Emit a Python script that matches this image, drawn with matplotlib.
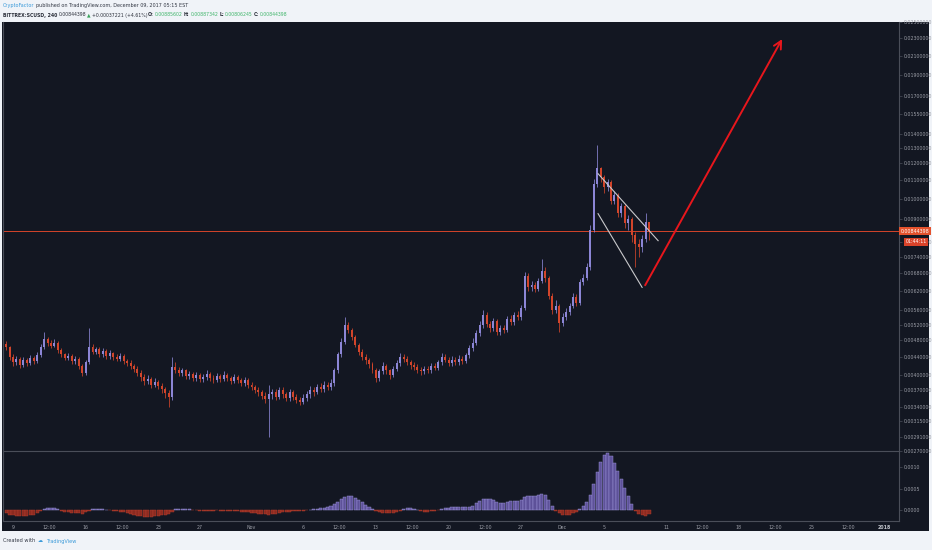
import matplotlib
matplotlib.use('Agg')
import matplotlib.pyplot as plt
import matplotlib.dates as mdates
import matplotlib.transforms as mtransforms
import numpy as np
import pandas as pd

first_open = 0.00470
closes = [
    0.00462, 0.00440, 0.00428, 0.00436, 0.00422, 0.00434, 0.00426, 0.00438, 0.00430, 0.00444,
    0.00462, 0.00482, 0.00472, 0.00466, 0.00474, 0.00456, 0.00446, 0.00438, 0.00442, 0.00430,
    0.00436, 0.00420, 0.00404, 0.00428, 0.00462, 0.00452, 0.00458, 0.00446, 0.00454, 0.00442,
    0.00448, 0.00440, 0.00436, 0.00442, 0.00430, 0.00426, 0.00420, 0.00414, 0.00404, 0.00396,
    0.00388, 0.00392, 0.00380, 0.00386, 0.00378, 0.00372, 0.00364, 0.00358, 0.00418, 0.00412,
    0.00404, 0.00410, 0.00398, 0.00402, 0.00394, 0.00400, 0.00392, 0.00396, 0.00402, 0.00394,
    0.00390, 0.00398, 0.00392, 0.00400, 0.00394, 0.00388, 0.00396, 0.00390, 0.00384, 0.00390,
    0.00380, 0.00376, 0.00370, 0.00366, 0.00360, 0.00354, 0.00362, 0.00366, 0.00358, 0.00370,
    0.00362, 0.00356, 0.00366, 0.00358, 0.00352, 0.00348, 0.00356, 0.00362, 0.00370, 0.00366,
    0.00376, 0.00372, 0.00380, 0.00376, 0.00384, 0.00410, 0.00446, 0.00476, 0.00518, 0.00506,
    0.00488, 0.00468, 0.00452, 0.00440, 0.00432, 0.00424, 0.00412, 0.00394, 0.00408, 0.00420,
    0.00410, 0.00400, 0.00414, 0.00426, 0.00440, 0.00436, 0.00428, 0.00422, 0.00418, 0.00412,
    0.00408, 0.00414, 0.00410, 0.00420, 0.00416, 0.00428, 0.00440, 0.00434, 0.00426, 0.00434,
    0.00428, 0.00436, 0.00430, 0.00444, 0.00460, 0.00474, 0.00498, 0.00520, 0.00548, 0.00522,
    0.00510, 0.00530, 0.00500, 0.00512, 0.00506, 0.00536, 0.00528, 0.00548, 0.00540, 0.00566,
    0.00670, 0.00632, 0.00640, 0.00626, 0.00652, 0.00688, 0.00662, 0.00604, 0.00562, 0.00574,
    0.00524, 0.00540, 0.00556, 0.00572, 0.00600, 0.00582, 0.00650, 0.00662, 0.00700, 0.00850,
    0.01080, 0.01170, 0.01120, 0.01060, 0.01090, 0.00990, 0.01020, 0.00930, 0.00960, 0.00880,
    0.00900, 0.00830, 0.00790, 0.00780, 0.00810, 0.00885602, 0.00844398,
]
highs = [
    0.00478, 0.00466, 0.00446, 0.00442, 0.00440, 0.00440, 0.00438, 0.00444, 0.00442, 0.00452,
    0.00470, 0.00500, 0.00488, 0.00480, 0.00482, 0.00478, 0.00460, 0.00450, 0.00450, 0.00446,
    0.00442, 0.00440, 0.00424, 0.00434, 0.00510, 0.00470, 0.00464, 0.00462, 0.00460, 0.00458,
    0.00456, 0.00452, 0.00446, 0.00448, 0.00446, 0.00436, 0.00432, 0.00424, 0.00420, 0.00410,
    0.00402, 0.00400, 0.00396, 0.00394, 0.00390, 0.00384, 0.00376, 0.00370, 0.00440, 0.00428,
    0.00418, 0.00416, 0.00414, 0.00408, 0.00406, 0.00406, 0.00404, 0.00402, 0.00410, 0.00406,
    0.00400, 0.00404, 0.00402, 0.00408, 0.00404, 0.00398, 0.00402, 0.00400, 0.00394, 0.00396,
    0.00394, 0.00386, 0.00380, 0.00376, 0.00370, 0.00366, 0.00380, 0.00372, 0.00372, 0.00376,
    0.00376, 0.00366, 0.00372, 0.00370, 0.00362, 0.00358, 0.00362, 0.00368, 0.00378, 0.00376,
    0.00382, 0.00384, 0.00388, 0.00386, 0.00392, 0.00416, 0.00452, 0.00484, 0.00542, 0.00526,
    0.00512, 0.00494, 0.00472, 0.00458, 0.00446, 0.00438, 0.00428, 0.00416, 0.00414, 0.00428,
    0.00424, 0.00414, 0.00420, 0.00432, 0.00448, 0.00446, 0.00442, 0.00434, 0.00428, 0.00424,
    0.00418, 0.00420, 0.00420, 0.00426, 0.00426, 0.00434, 0.00450, 0.00446, 0.00440, 0.00442,
    0.00440, 0.00444, 0.00442, 0.00450, 0.00468, 0.00484, 0.00506, 0.00530, 0.00560, 0.00556,
    0.00530, 0.00538, 0.00536, 0.00520, 0.00520, 0.00544, 0.00546, 0.00556, 0.00558, 0.00576,
    0.00684, 0.00680, 0.00652, 0.00650, 0.00664, 0.00730, 0.00700, 0.00670, 0.00612, 0.00590,
    0.00580, 0.00552, 0.00566, 0.00582, 0.00612, 0.00610, 0.00660, 0.00676, 0.00716, 0.00870,
    0.01110, 0.01320, 0.01180, 0.01130, 0.01110, 0.01100, 0.01040, 0.01030, 0.00980, 0.00970,
    0.00920, 0.00910, 0.00840, 0.00810, 0.00830, 0.00930, 0.00887342,
]
lows = [
    0.00455, 0.00432, 0.00420, 0.00422, 0.00416, 0.00418, 0.00420, 0.00422, 0.00424, 0.00426,
    0.00440, 0.00458, 0.00466, 0.00460, 0.00462, 0.00450, 0.00440, 0.00432, 0.00434, 0.00424,
    0.00424, 0.00414, 0.00398, 0.00400, 0.00424, 0.00446, 0.00446, 0.00440, 0.00440, 0.00436,
    0.00436, 0.00434, 0.00430, 0.00430, 0.00424, 0.00420, 0.00414, 0.00406, 0.00398, 0.00388,
    0.00380, 0.00382, 0.00374, 0.00376, 0.00372, 0.00364, 0.00356, 0.00340, 0.00352, 0.00404,
    0.00398, 0.00398, 0.00392, 0.00392, 0.00388, 0.00388, 0.00386, 0.00386, 0.00390, 0.00388,
    0.00384, 0.00386, 0.00386, 0.00388, 0.00388, 0.00382, 0.00384, 0.00384, 0.00378, 0.00378,
    0.00374, 0.00370, 0.00364, 0.00360, 0.00354, 0.00346, 0.00290, 0.00354, 0.00352, 0.00354,
    0.00356, 0.00350, 0.00350, 0.00352, 0.00346, 0.00342, 0.00344, 0.00350, 0.00356, 0.00360,
    0.00362, 0.00366, 0.00366, 0.00370, 0.00370, 0.00378, 0.00404, 0.00440, 0.00470, 0.00498,
    0.00480, 0.00462, 0.00444, 0.00432, 0.00424, 0.00416, 0.00404, 0.00386, 0.00388, 0.00402,
    0.00402, 0.00392, 0.00396, 0.00408, 0.00420, 0.00428, 0.00422, 0.00414, 0.00410, 0.00404,
    0.00400, 0.00402, 0.00404, 0.00404, 0.00410, 0.00410, 0.00422, 0.00428, 0.00420, 0.00420,
    0.00422, 0.00422, 0.00424, 0.00426, 0.00438, 0.00454, 0.00468, 0.00490, 0.00512, 0.00514,
    0.00500, 0.00502, 0.00492, 0.00492, 0.00498, 0.00500, 0.00520, 0.00520, 0.00532, 0.00532,
    0.00560, 0.00620, 0.00620, 0.00616, 0.00618, 0.00644, 0.00650, 0.00594, 0.00550, 0.00552,
    0.00500, 0.00516, 0.00532, 0.00548, 0.00566, 0.00572, 0.00576, 0.00640, 0.00654, 0.00692,
    0.00840, 0.01060, 0.01090, 0.01030, 0.01040, 0.00970, 0.00970, 0.00910, 0.00910, 0.00860,
    0.00850, 0.00800, 0.00700, 0.00740, 0.00760, 0.00800, 0.00806245,
]
# lower pane oscillator (MACD histogram style)
macd_hist = [
    -8e-5, -11e-5, -13e-5, -14e-5, -14e-5, -15e-5, -14e-5, -13e-5, -12e-5, -8e-5,
    -3e-5, 3e-5, 5e-5, 5e-5, 4e-5, 1e-5, -3e-5, -5e-5, -6e-5, -7e-5,
    -7e-5, -8e-5, -9e-5, -6e-5, -3e-5, 1e-5, 2e-5, 2e-5, 1e-5, 0.0,
    -1e-5, -2e-5, -3e-5, -4e-5, -6e-5, -8e-5, -10e-5, -12e-5, -14e-5, -15e-5,
    -16e-5, -16e-5, -16e-5, -15e-5, -14e-5, -13e-5, -12e-5, -10e-5, -4e-5, 1e-5,
    3e-5, 3e-5, 2e-5, 1e-5, -1e-5, -1e-5, -2e-5, -2e-5, -3e-5, -2e-5,
    -2e-5, -1e-5, -2e-5, -2e-5, -3e-5, -2e-5, -2e-5, -3e-5, -4e-5, -5e-5,
    -6e-5, -7e-5, -8e-5, -9e-5, -10e-5, -10e-5, -11e-5, -10e-5, -9e-5, -8e-5,
    -6e-5, -5e-5, -4e-5, -3e-5, -3e-5, -2e-5, -2e-5, -1e-5, 0.0, 2e-5,
    3e-5, 4e-5, 5e-5, 7e-5, 10e-5, 14e-5, 19e-5, 25e-5, 31e-5, 33e-5,
    32e-5, 28e-5, 23e-5, 18e-5, 12e-5, 7e-5, 2e-5, -3e-5, -6e-5, -7e-5,
    -8e-5, -8e-5, -7e-5, -5e-5, -2e-5, 2e-5, 4e-5, 5e-5, 3e-5, 0.0,
    -3e-5, -4e-5, -4e-5, -3e-5, -2e-5, -1e-5, 2e-5, 4e-5, 5e-5, 6e-5,
    7e-5, 7e-5, 6e-5, 6e-5, 7e-5, 10e-5, 15e-5, 20e-5, 25e-5, 26e-5,
    26e-5, 22e-5, 18e-5, 16e-5, 16e-5, 18e-5, 20e-5, 20e-5, 21e-5, 24e-5,
    30e-5, 32e-5, 33e-5, 32e-5, 34e-5, 36e-5, 34e-5, 24e-5, 10e-5, -2e-5,
    -8e-5, -11e-5, -12e-5, -11e-5, -8e-5, -4e-5, 2e-5, 8e-5, 18e-5, 35e-5,
    60e-5, 88e-5, 112e-5, 128e-5, 133e-5, 126e-5, 110e-5, 92e-5, 72e-5, 52e-5,
    32e-5, 14e-5, -3e-5, -9e-5, -13e-5, -14e-5, -10e-5,
]
last_price = 0.00844398

price_ticks = [0.0027, 0.00291, 0.00315, 0.0034, 0.0037, 0.0040, 0.0044, 0.0048, 0.0052,
               0.0056, 0.0062, 0.0068, 0.0074, 0.0080, 0.0090, 0.0100, 0.0110, 0.0120,
               0.0130, 0.0140, 0.0155, 0.0170, 0.0190, 0.0210, 0.0230, 0.0250]
osc_ticks = [0.0, 0.0005, 0.0010]
time_ticks = ['2017-10-09 00:00', '2017-10-12 12:00', '2017-10-16 00:00', '2017-10-19 12:00',
              '2017-10-23 00:00', '2017-10-27 00:00', '2017-11-01 00:00', '2017-11-06 00:00',
              '2017-11-09 12:00', '2017-11-13 00:00', '2017-11-16 12:00', '2017-11-20 00:00',
              '2017-11-23 12:00', '2017-11-27 00:00', '2017-12-01 00:00', '2017-12-05 00:00',
              '2017-12-11 00:00', '2017-12-14 12:00', '2017-12-18 00:00', '2017-12-21 12:00',
              '2017-12-25 00:00', '2017-12-28 12:00', '2018-01-01 00:00']
time_labels = ['9', '12:00', '16', '12:00', '23', '27', 'Nov', '6', '12:00', '13', '12:00', '20',
               '12:00', '27', 'Dec', '5', '11', '12:00', '18', '12:00', '25', '12:00', '2018']

# drawings on the chart: bull flag and target arrow
flag_upper_t = ['2017-12-04 10:00', '2017-12-10 05:00']
flag_upper_p = [0.01138, 0.00804]
flag_lower_t = ['2017-12-04 10:00', '2017-12-08 16:00']
flag_lower_p = [0.00925, 0.00631]
arrow_t = ['2017-12-08 23:00', '2017-12-22 04:00']
arrow_p = [0.00638, 0.02288]

BG = '#131722'
LINE = '#4a4e59'
TXT = '#9a9da6'
BULL = '#8c86d6'
BEAR = '#d2452b'

W, H = 932, 550


def rect(x0, y0, x1, y1):
    # pixel box (top-left origin) -> figure fraction [l, b, w, h]
    return [x0 / W, 1 - y1 / H, (x1 - x0) / W, (y1 - y0) / H]


def dnum(vals):
    return mdates.date2num(pd.to_datetime(vals).to_pydatetime())


def text_run(fig, x, y, pieces, size, gap=1.2):
    # draw coloured pieces one after another on a single line (pixel coords)
    r = fig.canvas.get_renderer()
    for s, color, weight in pieces:
        t = fig.text(x / W, 1 - y / H, s, fontsize=size, color=color, fontweight=weight,
                     va='center', ha='left')
        x += t.get_window_extent(renderer=r).width + gap


fig = plt.figure(figsize=(W / 100, H / 100), dpi=100, facecolor='#f0f3f8')
bg = fig.add_axes(rect(2, 22, 929, 531))
bg.set_facecolor(BG)
bg.set_xticks([])
bg.set_yticks([])
for s in bg.spines.values():
    s.set_visible(False)

ax = fig.add_axes(rect(3, 22, 899, 451))
axo = fig.add_axes(rect(3, 451, 899, 521), sharex=ax)
for a in (ax, axo):
    a.set_facecolor('none')
    for s in a.spines.values():
        s.set_color(LINE)
        s.set_linewidth(0.8)
    a.spines['top'].set_visible(False)
    a.yaxis.tick_right()
    a.tick_params(axis='y', colors=LINE, labelcolor=TXT, labelsize=3.4, length=2,
                  width=0.5, pad=1.5)

times = dnum(pd.date_range('2017-10-08 08:00', periods=len(closes), freq='8h'))
opens = np.array([first_open] + closes[:-1])
c = np.array(closes)
up = c >= opens
cols = np.where(up, BULL, BEAR)
bottoms = np.minimum(opens, c)
heights = np.maximum(np.abs(c - opens), bottoms * 0.006)

ax.set_yscale('log')
ax.vlines(times, lows, highs, colors=cols, lw=0.55, zorder=3)
ax.bar(times, heights, bottom=bottoms, width=0.19, color=cols, lw=0, zorder=3)
ax.axhline(last_price, color='#d4442a', lw=0.7, zorder=2)

ax.plot(dnum(flag_upper_t), flag_upper_p, color='#c9c9cc', lw=0.8, zorder=4)
ax.plot(dnum(flag_lower_t), flag_lower_p, color='#c9c9cc', lw=0.8, zorder=4)
at = dnum(arrow_t)
ax.annotate('', xy=(at[1], arrow_p[1]), xytext=(at[0], arrow_p[0]),
            arrowprops=dict(arrowstyle='->,head_length=0.55,head_width=0.28', color='#e8161c',
                            lw=1.4, shrinkA=0, shrinkB=0), zorder=5)

ax.set_ylim(0.0027, 0.02486)
ax.set_yticks(price_ticks)
ax.set_yticklabels(['%.8f' % p for p in price_ticks])
ax.yaxis.set_minor_locator(matplotlib.ticker.NullLocator())
ax.tick_params(axis='x', bottom=False, labelbottom=False)
ax.set_xlim(*dnum(['2017-10-08 00:52', '2018-01-02 10:30']))

# price and countdown labels on the price scale
tr = mtransforms.blended_transform_factory(ax.transAxes, ax.transData)
ax.text(1.0015, last_price, '0.00844398', transform=tr, fontsize=3.4, color='white',
        va='center', ha='left', clip_on=False, zorder=10,
        bbox=dict(boxstyle='square,pad=0.3', fc='#e4522d', ec='none'))
ax.text((927 - 3) / 896, 0.00800, '01:44:11', transform=tr, fontsize=3.4, color='white',
        va='center', ha='right', clip_on=False, zorder=10,
        bbox=dict(boxstyle='square,pad=0.3', fc='#d9432a', ec='none'))

# oscillator pane
h = np.array(macd_hist)
hcol = np.where(h >= 0, '#5d5199', '#8b2a20')
hedge = np.where(h >= 0, '#a29ade', '#b8412f')
axo.bar(times, h, width=0.3, color=hcol, edgecolor=hedge, lw=0.3, zorder=3)
axo.set_ylim(-0.000262, 0.001381)
axo.set_yticks(osc_ticks)
axo.set_yticklabels(['%.4f' % v for v in osc_ticks])
axo.set_xticks(dnum(time_ticks))
axo.set_xticklabels(time_labels)
axo.tick_params(axis='x', colors=LINE, labelcolor=TXT, labelsize=3.4, length=0, pad=3)
for lab in axo.get_xticklabels():
    if lab.get_text() == '2018':
        lab.set_fontweight('bold')
        lab.set_color('#c3c6cd')

# header and footer text
dark = '#2a2e39'
green = '#3fb56a'
text_run(fig, 3, 6, [('CryptoFactor', '#3b9ad9', 'normal'),
                     ('published on TradingView.com, December 09, 2017 05:15 EST', '#333844', 'normal')], 3.5)
text_run(fig, 3, 15, [('BITTREX:SCUSD, 240', dark, 'bold'), ('0.00844398', dark, 'normal'),
                      ('\u25b2', '#3aa35c', 'normal'), ('+0.00037221 (+4.61%)', dark, 'normal'),
                      ('O:', dark, 'bold'), ('0.00885602', green, 'normal'),
                      ('H:', dark, 'bold'), ('0.00887342', green, 'normal'),
                      ('L:', dark, 'bold'), ('0.00806245', green, 'normal'),
                      ('C:', dark, 'bold'), ('0.00844398', green, 'normal')], 3.3, gap=1.0)

text_run(fig, 3, 541, [('Created with', '#333844', 'normal'), ('\u2601', '#3b9ad9', 'normal'),
                       ('TradingView', '#3b9ad9', 'normal')], 3.6, gap=3)

fig.savefig('out.png', dpi=100, facecolor=fig.get_facecolor())
